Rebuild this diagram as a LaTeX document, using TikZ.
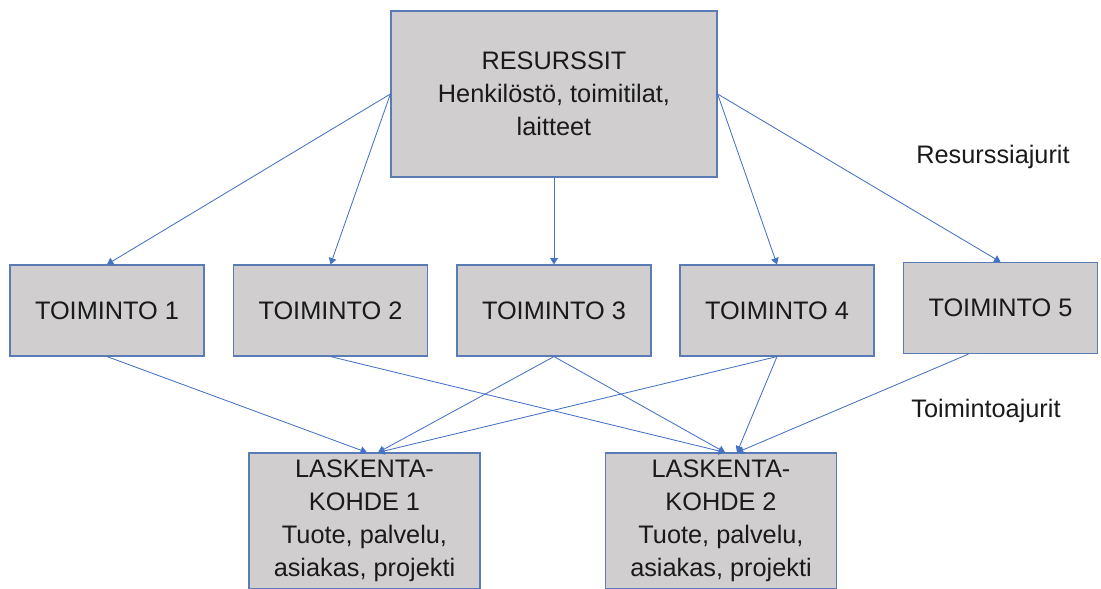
\documentclass[tikz,border=0pt]{standalone}
\usepackage{fontspec}
\setmainfont{Liberation Sans}
\usepackage{tikz}
\usetikzlibrary{arrows.meta, positioning}
\definecolor{boxgray}{HTML}{D0CECE}
\definecolor{edgeblue}{HTML}{5B7BB4}
\definecolor{driverblue}{HTML}{4472C4}
\definecolor{inktext}{HTML}{1A1A1A}

\tikzset{
  costbox/.style={draw=edgeblue, fill=boxgray, line width=0.8pt, inner sep=0pt, align=center, text=inktext},
  actbox/.style={costbox, minimum width=4.85cm, minimum height=2.275cm},
  objbox/.style={costbox, minimum width=5.775cm, minimum height=3.4cm},
  driver/.style={-{Triangle[length=4.5pt,width=5.5pt]}, draw=driverblue, line width=0.6pt},
}

\begin{document}
\begin{tikzpicture}[x=0.025cm, y=-0.025cm, font=\fontsize{18}{23.5}\selectfont]
  \useasboundingbox (0,0) rectangle (1101,589);

  % Resources
  \node[costbox, minimum width=8.15cm, minimum height=4.15cm] (res) at (554,94)
    {RESURSSIT\\Henkilöstö, toimitilat,\\laitteet};

  % Activities
  \node[actbox] (t1) at (107,310.5) {TOIMINTO 1};
  \node[actbox] (t2) at (330.5,310.5) {TOIMINTO 2};
  \node[actbox] (t3) at (554,310.5) {TOIMINTO 3};
  \node[actbox] (t4) at (777,310.5) {TOIMINTO 4};
  \node[actbox] (t5) at (1000.5,308) {TOIMINTO 5};

  % Cost objects
  \node[objbox] (obj1) at (364.5,521) {LASKENTA-\\KOHDE 1\\Tuote, palvelu,\\asiakas, projekti};
  \node[objbox] (obj2) at (721,521) {LASKENTA-\\KOHDE 2\\Tuote, palvelu,\\asiakas, projekti};

  % Driver labels
  \node[text=inktext] (resdrv) at (993,157) {Resurssiajurit};
  \node[text=inktext] (actdrv) at (986,411) {Toimintoajurit};

  % Resource drivers
  \draw[driver] (res.west) -- (t1.north);
  \draw[driver] (res.west) -- (t2.north);
  \draw[driver] (res.south) -- (t3.north);
  \draw[driver] (res.east) -- (t4.north);
  \draw[driver] (res.east) -- (t5.north);

  % Activity drivers
  \draw[driver] (t1.south) -- ([xshift=0.06cm]obj1.north);
  \draw[driver] (t3.south) -- ([xshift=0.34cm]obj1.north);
  \draw[driver] (t4.south) -- ([xshift=0.34cm]obj1.north);
  \draw[driver] (t2.south) -- ([xshift=0.1cm]obj2.north);
  \draw[driver] (t3.south) -- ([xshift=0.1cm]obj2.north);
  \draw[driver] (t4.south) -- ([xshift=0.4cm]obj2.north);
  \draw[driver] ([xshift=-0.8cm]t5.south) -- ([xshift=0.4cm]obj2.north);
\end{tikzpicture}
\end{document}
